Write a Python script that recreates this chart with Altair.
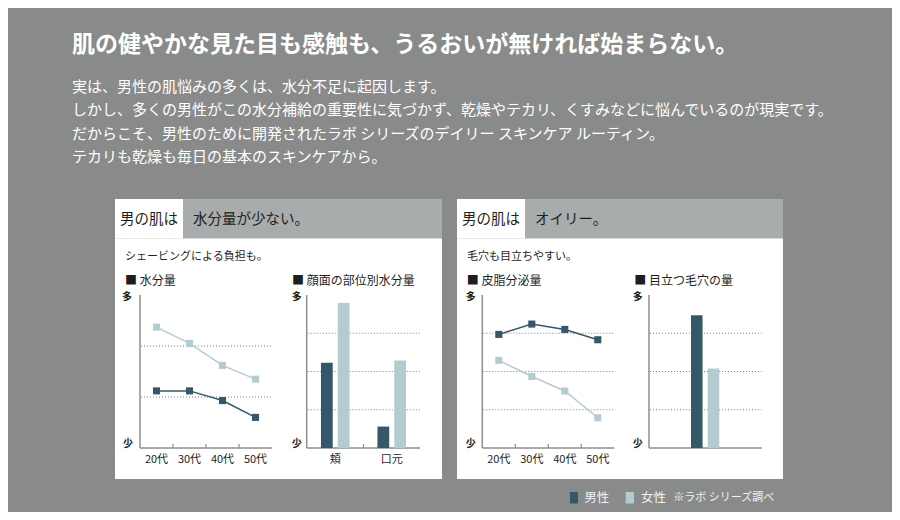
import altair as alt
import pandas as pd

# ---------------- data ----------------
ages = ["20代", "30代", "40代", "50代"]
genders = ["男性", "女性"]

moisture_male = [1.12, 1.12, 0.93, 0.60]      # 水分量 (relative, 0-3)
moisture_female = [2.37, 2.05, 1.62, 1.35]

parts = ["頬", "口元"]                        # 顔面の部位別水分量 (0-4)
part_moisture_male = [2.23, 0.56]
part_moisture_female = [3.79, 2.29]

sebum_male = [2.97, 3.24, 3.10, 2.83]         # 皮脂分泌量 (0-4)
sebum_female = [2.29, 1.87, 1.49, 0.79]

pore_category = ["毛穴"]                       # 目立つ毛穴の量 (0-4)
pores_male = [3.47]
pores_female = [2.08]

headline = "肌の健やかな見た目も感触も、うるおいが無ければ始まらない。"
body_lines = [
    "実は、男性の肌悩みの多くは、水分不足に起因します。",
    "しかし、多くの男性がこの水分補給の重要性に気づかず、乾燥やテカリ、くすみなどに悩んでいるのが現実です。",
    "だからこそ、男性のために開発されたラボ シリーズのデイリー スキンケア ルーティン。",
    "テカリも乾燥も毎日の基本のスキンケアから。",
]

# ---------------- style ----------------
DARK = "#34586a"
LIGHT = "#b4ccd1"
BG = "#898a8a"
HEADER = "#a8acac"
AXIS = "#8e8e8e"
GRID = "#7f7f7f"
INK = "#1e1e1e"
FONT = "Noto Sans CJK JP"

W, H = 884, 504
Y0, Y_TOP = 440, 287   # pixel positions of the plot baselines / tops

one = pd.DataFrame({"k": [0]})
layers = []


def rect(x, x2, y, y2, color):
    return alt.Chart(one).mark_rect(color=color).encode(
        x=alt.value(x), x2=alt.value(x2), y=alt.value(y), y2=alt.value(y2))


def rule(x, x2, y, y2, color=AXIS, width=1.5):
    return alt.Chart(one).mark_rule(color=color, strokeWidth=width).encode(
        x=alt.value(x), x2=alt.value(x2), y=alt.value(y), y2=alt.value(y2))


def text(s, x, y, size, color=INK, weight="normal", align="left"):
    return alt.Chart(one).mark_text(
        text=s, align=align, baseline="middle", font=FONT,
        fontSize=size, fontWeight=weight, color=color,
    ).encode(x=alt.value(x), y=alt.value(y))


def yscale(vmax):
    return alt.Scale(domain=[0, vmax], range=[Y0, Y_TOP], nice=False, zero=True)


def color_enc():
    return alt.Color("gender:N", scale=alt.Scale(domain=genders, range=[DARK, LIGHT]), legend=None)


def frame(xa, xb, vmax, top_label_x, bottom_label_x):
    out = []
    grid = pd.DataFrame({"g": list(range(1, vmax))})
    out.append(alt.Chart(grid).mark_rule(color=GRID, strokeWidth=1, strokeDash=[1, 2]).encode(
        y=alt.Y("g:Q", scale=yscale(vmax), axis=None),
        x=alt.value(xa + 1), x2=alt.value(xb)))
    out.append(rule(xa, xa, Y_TOP, Y0))
    out.append(rule(xa, xb, Y0, Y0))
    out.append(text("多", top_label_x, Y_TOP + 2, 10, weight="bold", align="center"))
    out.append(text("少", bottom_label_x, Y0 - 4, 10, weight="bold", align="center"))
    return out


def line_panel(vm, vf, xa, xb, vmax, lx_top, lx_bot):
    out = frame(xa, xb, vmax, lx_top, lx_bot)
    df = pd.DataFrame({"age": ages * 2, "gender": ["男性"] * 4 + ["女性"] * 4, "v": vm + vf})
    xs = alt.Scale(type="band", domain=ages, range=[xa, xb], paddingInner=0, paddingOuter=0)
    ticks = pd.DataFrame({"age": ages[1:]})
    out.append(alt.Chart(ticks).mark_rule(color=AXIS, strokeWidth=1.2).encode(
        x=alt.X("age:N", scale=xs, axis=None, bandPosition=0),
        y=alt.value(Y0 - 4), y2=alt.value(Y0)))
    labels = pd.DataFrame({"age": ages})
    out.append(alt.Chart(labels).mark_text(font=FONT, fontSize=11, color=INK, baseline="middle").encode(
        x=alt.X("age:N", scale=xs, axis=None, bandPosition=0.5),
        y=alt.value(452), text="age:N"))
    enc = dict(
        x=alt.X("age:N", scale=xs, axis=None, bandPosition=0.5),
        y=alt.Y("v:Q", scale=yscale(vmax), axis=None),
        color=color_enc(),
    )
    out.append(alt.Chart(df).mark_line(strokeWidth=1.5).encode(**enc))
    out.append(alt.Chart(df).mark_point(shape="square", filled=True, size=50, opacity=1).encode(**enc))
    return out


# ---------------- page ----------------
layers.append(text(headline, 64, 37, 23, color="#ffffff", weight="bold"))
for i, (line, yy) in enumerate(zip(body_lines, [79, 102, 125.5, 149])):
    layers.append(text(line, 64, yy, 15, color="#ffffff"))

# panels
for (px0, px1, lab_x1, hl, sub) in [
    (107, 434, 175, "水分量が少ない。", "シェービングによる負担も。"),
    (449, 775, 517, "オイリー。", "毛穴も目立ちやすい。"),
]:
    layers.append(rect(px0, px1, 191, 471, "#ffffff"))
    layers.append(rect(px0, px1, 191, 230.5, HEADER))
    layers.append(rect(px0, lab_x1, 191, 230.5, "#ffffff"))
    layers.append(text("男の肌は", px0 + 5, 212, 14.5))
    layers.append(text(hl, lab_x1 + 10, 212, 14.5))
    layers.append(text(sub, px0 + 10, 249, 11))

layers.append(text("■ 水分量", 117, 273, 12))
layers.append(text("■ 顔面の部位別水分量", 284, 273, 12))
layers.append(text("■ 皮脂分泌量", 458.7, 273, 12))
layers.append(text("■ 目立つ毛穴の量", 626.3, 273, 12))

# chart 1: 水分量
layers += line_panel(moisture_male, moisture_female, 132, 264, 3, 119, 120)

# chart 3: 皮脂分泌量
layers += line_panel(sebum_male, sebum_female, 474.3, 606.3, 4, 462.7, 462.7)

# chart 2: 顔面の部位別水分量
layers += frame(298.7, 412, 4, 288.7, 288.7)
df2 = pd.DataFrame({
    "part": parts * 2,
    "gender": ["男性"] * 2 + ["女性"] * 2,
    "v": part_moisture_male + part_moisture_female,
})
xs2 = alt.Scale(type="band", domain=parts, range=[299, 412], paddingInner=0, paddingOuter=0)
layers.append(alt.Chart(df2).mark_bar().encode(
    x=alt.X("part:N", scale=xs2, axis=None),
    xOffset=alt.XOffset("gender:N", scale=alt.Scale(domain=genders, paddingInner=0.3, paddingOuter=0.83)),
    y=alt.Y("v:Q", scale=yscale(4), axis=None),
    color=color_enc(),
))
layers.append(alt.Chart(pd.DataFrame({"part": parts[1:]})).mark_rule(color=AXIS, strokeWidth=1.2).encode(
    x=alt.X("part:N", scale=xs2, axis=None, bandPosition=0),
    y=alt.value(Y0 - 4), y2=alt.value(Y0)))
layers.append(alt.Chart(pd.DataFrame({"part": parts})).mark_text(font=FONT, fontSize=11, color=INK, baseline="middle").encode(
    x=alt.X("part:N", scale=xs2, axis=None, bandPosition=0.5),
    y=alt.value(452), text="part:N"))

# chart 4: 目立つ毛穴の量
layers += frame(641, 753.7, 4, 629.7, 629.7)
df4 = pd.DataFrame({
    "cat": pore_category * 2,
    "gender": genders,
    "v": pores_male + pores_female,
})
layers.append(alt.Chart(df4).mark_bar().encode(
    x=alt.X("gender:N", scale=alt.Scale(type="band", domain=genders, range=[683, 711.3],
                                        paddingInner=0.31, paddingOuter=0), axis=None),
    y=alt.Y("v:Q", scale=yscale(4), axis=None),
    color=color_enc(),
))

# legend
layers.append(rect(562, 570, 484, 495.5, DARK))
layers.append(text("男性", 576.3, 490, 12.5, color="#f2f2f2"))
layers.append(rect(617.7, 626, 484, 495.5, LIGHT))
layers.append(text("女性", 633, 490, 12.5, color="#f2f2f2"))
layers.append(text("※ラボ シリーズ調べ", 665.3, 490, 11, color="#f2f2f2"))

chart = alt.layer(*layers).resolve_scale(
    x="independent", y="independent", color="independent", xOffset="independent"
).properties(
    width=W, height=H, padding=0,
    autosize=alt.AutoSizeParams(type="none"),
    background=BG,
).configure_view(stroke=None)

chart.save("out.html", embed_options={"renderer": "svg", "actions": False})
